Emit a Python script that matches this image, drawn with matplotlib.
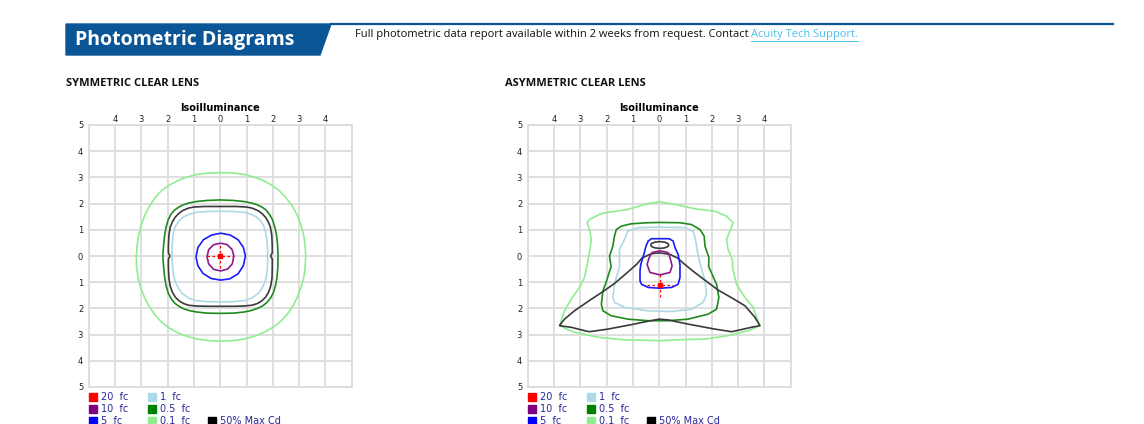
import matplotlib
matplotlib.use("Agg")
import matplotlib.pyplot as plt
from matplotlib.patches import Polygon, Rectangle
from matplotlib.lines import Line2D

W, H = 1144, 424

# ---- datos (unidades de altura de montaje) ----
ticks_x = [-4, -3, -2, -1, 0, 1, 2, 3, 4]
ticks_y = [-5, -4, -3, -2, -1, 0, 1, 2, 3, 4, 5]

legend_labels = ["20  fc", "10  fc", "5  fc", "1  fc", "0.5  fc", "0.1  fc", "50% Max Cd"]
legend_colors = ["#ff0000", "#800080", "#0000ff", "#add8e6", "#008000", "#90ee90", "#000000"]

# lente simetrica
sym_01fc = [(0, 3.18), (-0.5, 3.16), (-0.9, 3.11), (-1.3, 3.0), (-1.6, 2.88), (-1.95, 2.7),
            (-2.25, 2.48), (-2.5, 2.2), (-2.7, 1.88), (-2.87, 1.55), (-3.0, 1.2), (-3.1, 0.8),
            (-3.16, 0.4), (-3.19, 0), (-3.18, -0.4), (-3.12, -0.82), (-3.02, -1.22), (-2.88, -1.58),
            (-2.7, -1.92), (-2.48, -2.25), (-2.22, -2.53), (-1.92, -2.76), (-1.58, -2.95),
            (-1.25, -3.07), (-0.88, -3.17), (-0.45, -3.23), (0.02, -3.25), (0.48, -3.23),
            (0.92, -3.17), (1.3, -3.06), (1.64, -2.93), (1.98, -2.74), (2.3, -2.5), (2.57, -2.2),
            (2.78, -1.88), (2.95, -1.53), (3.08, -1.18), (3.18, -0.8), (3.23, -0.4), (3.25, 0),
            (3.23, 0.4), (3.17, 0.82), (3.06, 1.22), (2.92, 1.58), (2.73, 1.92), (2.5, 2.23),
            (2.24, 2.5), (1.93, 2.72), (1.6, 2.9), (1.25, 3.02), (0.88, 3.12), (0.45, 3.17), (0, 3.18)]
sym_05fc = [(0, 2.14), (-0.5, 2.12), (-0.9, 2.08), (-1.2, 2.02), (-1.42, 1.95), (-1.6, 1.85),
            (-1.75, 1.74), (-1.88, 1.58), (-1.98, 1.38), (-2.06, 1.1), (-2.11, 0.8), (-2.15, 0.45),
            (-2.18, 0), (-2.15, -0.45), (-2.11, -0.82), (-2.06, -1.12), (-1.98, -1.4), (-1.87, -1.62),
            (-1.73, -1.8), (-1.57, -1.92), (-1.38, -2.02), (-1.15, -2.09), (-0.88, -2.14),
            (-0.5, -2.18), (0.02, -2.19), (0.5, -2.18), (0.9, -2.14), (1.18, -2.08), (1.42, -2.0),
            (1.62, -1.9), (1.78, -1.77), (1.92, -1.6), (2.03, -1.38), (2.11, -1.1), (2.16, -0.8),
            (2.19, -0.45), (2.2, 0), (2.18, 0.45), (2.14, 0.8), (2.08, 1.1), (1.99, 1.38),
            (1.88, 1.58), (1.75, 1.75), (1.6, 1.86), (1.42, 1.95), (1.2, 2.02), (0.9, 2.08),
            (0.5, 2.12), (0, 2.14)]
sym_1fc = [(0, 1.71), (-0.5, 1.7), (-0.9, 1.67), (-1.15, 1.6), (-1.38, 1.5), (-1.55, 1.36),
           (-1.68, 1.18), (-1.77, 0.95), (-1.81, 0.65), (-1.83, 0.3), (-1.83, 0), (-1.82, -0.35),
           (-1.78, -0.7), (-1.7, -1.0), (-1.58, -1.25), (-1.42, -1.45), (-1.2, -1.6), (-0.95, -1.7),
           (-0.5, -1.74), (0, -1.75), (0.5, -1.74), (0.95, -1.7), (1.2, -1.6), (1.42, -1.45),
           (1.58, -1.25), (1.7, -1.0), (1.77, -0.7), (1.8, -0.35), (1.8, 0), (1.8, 0.3),
           (1.77, 0.65), (1.72, 0.95), (1.64, 1.18), (1.52, 1.36), (1.36, 1.5), (1.14, 1.6),
           (0.9, 1.67), (0.5, 1.7), (0, 1.71)]
sym_5fc = [(0.02, 0.87), (0.38, 0.8), (0.68, 0.62), (0.88, 0.33), (0.96, 0), (0.88, -0.37),
           (0.68, -0.68), (0.37, -0.87), (0.02, -0.92), (-0.34, -0.86), (-0.65, -0.67),
           (-0.85, -0.37), (-0.92, -0.03), (-0.85, 0.32), (-0.64, 0.62), (-0.33, 0.8), (0.02, 0.87)]
sym_10fc = [(0.02, 0.49), (0.27, 0.43), (0.45, 0.25), (0.52, 0), (0.46, -0.3), (0.28, -0.5),
            (0.02, -0.57), (-0.25, -0.51), (-0.44, -0.3), (-0.5, -0.03), (-0.44, 0.24),
            (-0.25, 0.43), (0.02, 0.49)]
sym_maxcd = [(0, 1.89), (-0.6, 1.89), (-1.0, 1.87), (-1.2, 1.83), (-1.3, 1.79), (-1.45, 1.72),
             (-1.6, 1.6), (-1.72, 1.47), (-1.82, 1.3), (-1.9, 1.1), (-1.95, 0.8), (-1.97, 0.4),
             (-1.97, 0.12), (-1.91, 0.0), (-1.97, -0.12), (-1.97, -0.45), (-1.95, -0.85),
             (-1.9, -1.15), (-1.82, -1.38), (-1.7, -1.58), (-1.55, -1.72), (-1.38, -1.82),
             (-1.2, -1.88), (-0.9, -1.91), (-0.5, -1.92), (0, -1.92), (0.5, -1.92), (0.9, -1.91),
             (1.2, -1.88), (1.4, -1.82), (1.57, -1.72), (1.72, -1.58), (1.84, -1.38), (1.92, -1.15),
             (1.97, -0.85), (1.98, -0.45), (1.98, -0.12), (1.92, 0.0), (1.98, 0.12), (1.98, 0.4),
             (1.96, 0.8), (1.91, 1.1), (1.83, 1.3), (1.73, 1.47), (1.61, 1.6), (1.46, 1.72),
             (1.3, 1.79), (1.2, 1.83), (1.0, 1.87), (0.6, 1.89), (0, 1.89)]
sym_center = (0.0, 0.0)

# lente asimetrica
asym_01fc = [(0, 2.07), (-0.43, 2.0), (-1.19, 1.78), (-1.7, 1.7), (-2.2, 1.62), (-2.65, 1.4),
             (-2.74, 1.27), (-2.65, 1.01), (-2.58, 0.63), (-2.62, 0.35), (-2.66, 0.1),
             (-2.72, -0.25), (-2.84, -0.82), (-3.03, -1.2), (-3.35, -1.65), (-3.6, -2.09),
             (-3.73, -2.47), (-3.75, -2.66), (-3.5, -2.8), (-3.22, -2.91), (-2.33, -3.1),
             (-1.32, -3.2), (0.08, -3.23), (0.6, -3.2), (1.74, -3.17), (2.62, -3.04), (3.38, -2.85),
             (3.83, -2.66), (3.7, -2.34), (3.57, -1.96), (3.26, -1.58), (2.94, -1.08), (2.8, -0.5),
             (2.78, -0.13), (2.62, 0.25), (2.56, 0.63), (2.69, 0.95), (2.81, 1.27), (2.56, 1.52),
             (2.12, 1.71), (1.36, 1.8), (0.6, 1.97), (0, 2.07)]
asym_05fc = [(0, 1.28), (-0.43, 1.27), (-1.06, 1.23), (-1.44, 1.14), (-1.63, 1.01), (-1.7, 0.76),
             (-1.76, 0.38), (-1.89, 0), (-1.83, -0.4), (-2.0, -0.95), (-2.14, -1.33), (-2.2, -1.84),
             (-2.14, -2.09), (-1.83, -2.28), (-1.19, -2.41), (-0.43, -2.47), (0.34, -2.47),
             (1.1, -2.41), (1.86, -2.22), (2.18, -2.03), (2.27, -1.58), (2.18, -1.08), (1.88, -0.4),
             (1.89, -0.06), (1.74, 0.38), (1.71, 0.76), (1.55, 1.01), (1.23, 1.2), (0.79, 1.27),
             (0, 1.28)]
asym_1fc = [(0, 1.1), (-0.81, 1.08), (-1.19, 0.95), (-1.32, 0.63), (-1.51, 0.25), (-1.51, -0.4),
            (-1.7, -1.08), (-1.76, -1.58), (-1.7, -1.77), (-1.32, -1.96), (-0.43, -2.09),
            (0.47, -2.12), (1.23, -2.03), (1.67, -1.77), (1.8, -1.46), (1.74, -0.95), (1.58, -0.4),
            (1.46, 0.13), (1.38, 0.63), (1.29, 0.95), (0.98, 1.08), (0, 1.1)]
asym_5fc = [(0.03, 0.66), (-0.29, 0.66), (-0.42, 0.57), (-0.5, 0.38), (-0.6, 0.0), (-0.7, -0.32),
            (-0.73, -0.57), (-0.73, -0.95), (-0.67, -1.08), (-0.42, -1.2), (0.03, -1.23),
            (0.47, -1.2), (0.72, -1.08), (0.79, -0.82), (0.79, -0.32), (0.72, 0.06), (0.6, 0.32),
            (0.53, 0.57), (0.38, 0.66), (0.03, 0.66)]
asym_10fc = [(0.03, 0.2), (0.34, 0.13), (0.41, -0.06), (0.49, -0.38), (0.41, -0.63), (0.03, -0.72),
             (-0.35, -0.63), (-0.46, -0.32), (-0.38, -0.06), (-0.27, 0.13), (0.03, 0.2)]
asym_maxcd = [(-3.8, -2.66), (-3.6, -2.41), (-3.22, -2.09), (-2.58, -1.65), (-2.2, -1.4),
              (-1.7, -1.05), (-1.2, -0.62), (-0.84, -0.3), (-0.65, -0.07), (-0.29, 0.09),
              (0.03, 0.12), (0.41, 0.06), (0.7, -0.08), (0.95, -0.3), (1.25, -0.55), (1.6, -0.82),
              (2.24, -1.3), (2.8, -1.62), (3.26, -1.9), (3.64, -2.34), (3.83, -2.66), (3.51, -2.72),
              (2.94, -2.85), (2.75, -2.89), (2.12, -2.79), (1.1, -2.6), (0.34, -2.44), (0.0, -2.41),
              (-0.43, -2.49), (-1.06, -2.62), (-1.95, -2.79), (-2.65, -2.89), (-2.84, -2.85),
              (-3.35, -2.72), (-3.8, -2.66)]
asym_maxcd_ring = [(0.02, 0.55), (0.2, 0.53), (0.33, 0.48), (0.36, 0.42), (0.33, 0.36), (0.2, 0.31),
                   (0.02, 0.29), (-0.16, 0.31), (-0.29, 0.36), (-0.32, 0.42), (-0.29, 0.48),
                   (-0.16, 0.53), (0.02, 0.55)]
asym_center = (0.03, -1.1)

navy = "#27279a"
grid_c = "#dcdcdc"
line_c = {"0.1": "#90ee90", "0.5": "#1e8a1e", "1": "#add8e6", "5": "#1a1aff",
          "10": "#8b1a8b", "max": "#3a3a3a"}

fig = plt.figure(figsize=(W / 100, H / 100), dpi=100)


def fx(px):
    return px / W


def fy(py):
    return 1 - py / H


def draw_panel(left_px, contours, center):
    ax = fig.add_axes([fx(left_px), fy(387), 263 / W, 262 / H])
    ax.set_xlim(-5, 5)
    ax.set_ylim(-5, 5)
    ax.set_xticks(ticks_x)
    ax.set_xticklabels([str(abs(t)) for t in ticks_x])
    ax.set_yticks(ticks_y)
    ax.set_yticklabels([str(abs(t)) for t in ticks_y])
    ax.xaxis.tick_top()
    ax.tick_params(length=0, labelsize=6, colors="#222222", pad=0.5)
    ax.tick_params(axis="y", pad=4)
    for v in range(-5, 6):
        ax.axvline(v, color=grid_c, lw=1.3, zorder=0)
        ax.axhline(v, color=grid_c, lw=1.3, zorder=0)
    for s in ax.spines.values():
        s.set_color(grid_c)
        s.set_linewidth(1.3)
    ax.set_title("Isoilluminance", fontsize=7, fontweight="bold", pad=3)
    for key, pts in contours:
        xs, ys = zip(*pts)
        ax.plot(xs, ys, color=line_c[key], lw=1.2, zorder=2,
                solid_joinstyle="round", solid_capstyle="butt")
    cx, cy = center
    ax.plot([cx - 0.5, cx + 0.5], [cy, cy], color="red", lw=0.9, ls=(0, (2, 2)), zorder=3)
    ax.plot([cx, cx], [cy - 0.47, cy + 0.47], color="red", lw=0.9, ls=(0, (2, 2)), zorder=3)
    ax.plot([cx], [cy], marker="s", ms=3.2, color="red", zorder=4)

    # leyenda
    cols = [0, 0, 0, 1, 1, 1, 2]
    rows = [0, 1, 2, 0, 1, 2, 2]
    for lab, col, c, r in zip(legend_labels, legend_colors, cols, rows):
        x0 = left_px + [0, 59, 119][c]
        y0 = [397, 409, 420.5][r]
        fig.patches.append(Rectangle((fx(x0), fy(y0 + 4)), 8 / W, 8 / H, color=col,
                                     transform=fig.transFigure, figure=fig))
        fig.text(fx(x0 + 12), fy(y0), lab, fontsize=7, color=navy, va="center",
                 family="DejaVu Sans")
    return ax


draw_panel(88.7, [("0.1", sym_01fc), ("0.5", sym_05fc), ("max", sym_maxcd), ("1", sym_1fc),
                  ("5", sym_5fc), ("10", sym_10fc)], sym_center)
draw_panel(527.7, [("0.1", asym_01fc), ("0.5", asym_05fc), ("1", asym_1fc), ("max", asym_maxcd),
                   ("max", asym_maxcd_ring), ("5", asym_5fc), ("10", asym_10fc)], asym_center)

# cabecera
blue = "#0a5596"
fig.patches.append(Polygon([(fx(66), fy(24)), (fx(331), fy(24)), (fx(320), fy(55)), (fx(66), fy(55))],
                           closed=True, color=blue, transform=fig.transFigure, figure=fig))
fig.add_artist(Line2D([fx(331), fx(1113)], [fy(24), fy(24)], color=blue, lw=1.6,
                      transform=fig.transFigure))
fig.text(fx(75), fy(40), "Photometric Diagrams", fontsize=14, fontweight="bold",
         color="white", va="center", family="Open Sans")
fig.text(fx(355), fy(35), "Full photometric data report available within 2 weeks from request. Contact ",
         fontsize=8, color="#111111", va="center", family="Open Sans")
fig.text(fx(751), fy(35), "Acuity Tech Support.", fontsize=8, color="#4ec0ea", va="center",
         family="Open Sans")
fig.add_artist(Line2D([fx(751), fx(858)], [fy(41), fy(41)], color="#4ec0ea", lw=0.7,
                      transform=fig.transFigure))

fig.text(fx(66), fy(83), "SYMMETRIC CLEAR LENS", fontsize=8, fontweight="bold", color="#111111",
         va="center", family="Open Sans")
fig.text(fx(505), fy(83), "ASYMMETRIC CLEAR LENS", fontsize=8, fontweight="bold", color="#111111",
         va="center", family="Open Sans")

fig.savefig("out.png", dpi=100)
